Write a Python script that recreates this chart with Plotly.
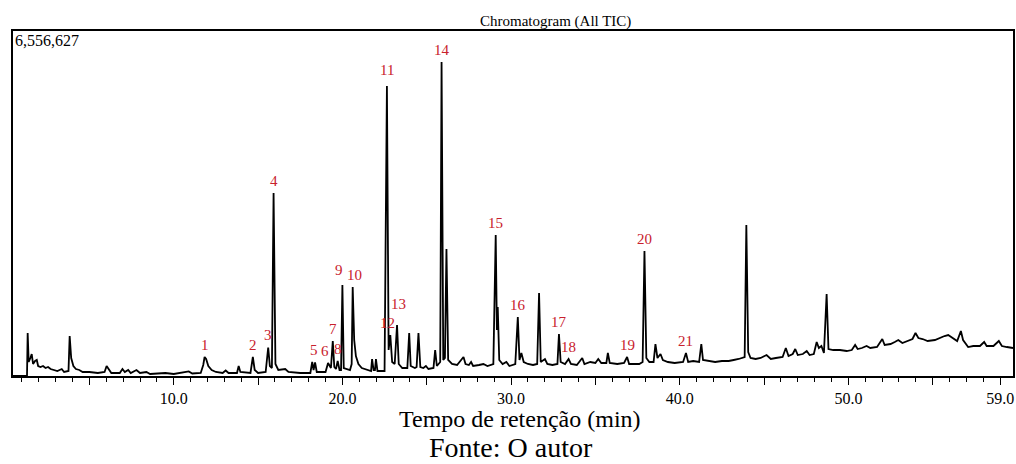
import plotly.graph_objects as go

# ---- data: retention time (min) and TIC intensity (counts)
rt = [0.47, 1.30, 1.34, 1.40, 1.50, 1.58, 1.66, 1.78, 1.88, 1.96, 2.10, 2.25, 2.40, 2.55, 2.70, 2.90, 3.10, 3.36, 3.50, 3.76,
      3.83, 3.92, 4.05, 4.20, 4.40, 4.60, 5.00, 5.50, 5.90, 6.02, 6.15, 6.30, 6.80, 6.96, 7.10, 7.30, 7.45, 7.79, 8.00, 8.38,
      8.60, 9.50, 10.00, 10.89, 11.10, 11.60, 11.75, 11.83, 11.92, 12.05, 12.25, 12.50, 12.90, 13.08, 13.25, 13.75, 13.85, 13.95, 14.55, 14.69,
      14.80, 15.00, 15.45, 15.60, 15.70, 15.82, 15.92, 16.03, 16.20, 16.61, 16.80, 17.50, 18.10, 18.21, 18.29, 18.38, 18.48, 19.00, 19.15, 19.32,
      19.43, 19.52, 19.62, 19.72, 19.83, 19.92, 20.00, 20.08, 20.45, 20.55, 20.61, 20.70, 20.80, 20.95, 21.15, 21.50, 21.70, 21.76, 21.85, 21.93,
      21.99, 22.08, 22.50, 22.64, 22.74, 22.84, 22.95, 23.10, 23.24, 23.34, 23.55, 23.85, 23.96, 24.05, 24.30, 24.40, 24.51, 24.62, 24.80, 24.95,
      25.10, 25.40, 25.50, 25.60, 25.80, 25.88, 25.98, 26.08, 26.17, 26.27, 26.50, 26.80, 27.18, 27.30, 27.50, 27.63, 27.75, 28.10, 28.36, 28.60,
      28.95, 29.09, 29.16, 29.21, 29.30, 29.50, 29.72, 29.90, 30.25, 30.40, 30.50, 30.61, 30.75, 31.00, 31.30, 31.55, 31.66, 31.76, 32.01, 32.15,
      32.45, 32.75, 32.84, 32.94, 33.20, 33.41, 33.55, 33.90, 34.22, 34.35, 34.70, 35.00, 35.17, 35.35, 35.65, 35.74, 35.85, 36.30, 36.70, 36.88,
      37.00, 37.60, 37.80, 37.91, 38.02, 38.20, 38.45, 38.56, 38.68, 38.86, 39.00, 39.30, 39.70, 40.20, 40.37, 40.50, 40.80, 41.15, 41.28, 41.38,
      41.70, 42.10, 42.50, 42.90, 43.20, 43.50, 43.85, 43.95, 44.06, 44.20, 44.50, 44.80, 45.15, 45.40, 45.70, 46.10, 46.29, 46.45, 46.70, 46.85,
      47.00, 47.30, 47.53, 47.70, 47.95, 48.12, 48.25, 48.40, 48.55, 48.71, 48.82, 49.10, 49.50, 49.90, 50.20, 50.40, 50.55, 50.80, 51.08, 51.30,
      51.70, 52.01, 52.15, 52.50, 52.75, 52.96, 53.20, 53.50, 53.80, 53.98, 54.15, 54.40, 54.70, 55.13, 55.40, 55.70, 55.92, 56.20, 56.45, 56.67,
      56.80, 57.10, 57.40, 57.80, 58.05, 58.20, 58.60, 58.92, 59.10, 59.40, 59.76]

tic = [0, 0, 817000, 266000, 342000, 418000, 228000, 285000, 304000, 190000, 171000, 190000, 152000, 171000, 133000, 114000, 95000, 133000, 76000, 95000,
       760000, 342000, 190000, 133000, 114000, 76000, 76000, 57000, 76000, 190000, 133000, 57000, 57000, 133000, 76000, 114000, 57000, 114000, 57000, 76000,
       38000, 57000, 38000, 86000, 48000, 57000, 209000, 361000, 323000, 190000, 114000, 76000, 57000, 105000, 57000, 57000, 190000, 76000, 57000, 361000,
       114000, 57000, 76000, 542000, 190000, 152000, 3478000, 228000, 114000, 133000, 76000, 57000, 57000, 266000, 114000, 257000, 76000, 76000, 247000, 152000,
       665000, 171000, 133000, 285000, 114000, 114000, 1729000, 152000, 114000, 228000, 1691000, 684000, 380000, 228000, 152000, 114000, 95000, 323000, 114000, 114000,
       323000, 95000, 95000, 5511000, 494000, 779000, 266000, 228000, 969000, 228000, 152000, 152000, 817000, 190000, 152000, 171000, 817000, 171000, 152000, 190000,
       133000, 152000, 494000, 190000, 266000, 5968000, 304000, 342000, 2414000, 304000, 228000, 209000, 361000, 228000, 209000, 266000, 190000, 209000, 228000, 190000,
       228000, 2680000, 874000, 1311000, 304000, 228000, 266000, 190000, 228000, 1121000, 304000, 437000, 266000, 228000, 209000, 228000, 1577000, 266000, 323000, 228000,
       209000, 228000, 798000, 266000, 228000, 323000, 228000, 209000, 342000, 228000, 266000, 247000, 323000, 247000, 247000, 437000, 247000, 228000, 247000, 361000,
       228000, 228000, 266000, 2376000, 342000, 266000, 266000, 608000, 342000, 418000, 304000, 266000, 247000, 266000, 437000, 266000, 285000, 266000, 608000, 304000,
       285000, 266000, 285000, 285000, 304000, 323000, 361000, 2870000, 456000, 342000, 323000, 342000, 399000, 323000, 342000, 361000, 532000, 380000, 418000, 513000,
       399000, 418000, 475000, 399000, 418000, 646000, 532000, 570000, 437000, 1558000, 513000, 494000, 494000, 475000, 494000, 589000, 513000, 532000, 570000, 532000,
       551000, 703000, 589000, 608000, 646000, 684000, 627000, 665000, 703000, 817000, 722000, 703000, 665000, 684000, 722000, 760000, 779000, 722000, 665000, 855000,
       684000, 551000, 570000, 570000, 646000, 570000, 570000, 665000, 570000, 551000, 532000]

# labelled peaks
peak_labels = ["1", "2", "3", "4", "5", "6", "7", "8", "9", "10", "11",
               "12", "13", "14", "15", "16", "17", "18", "19", "20", "21"]
peak_rt = [11.83, 14.69, 15.60, 15.92, 18.30, 19.15, 19.43, 19.72, 20.00, 20.61, 22.64,
           22.84, 23.24, 25.88, 29.09, 30.40, 32.84, 33.41, 36.88, 37.91, 40.37]
peak_tic = [361000, 361000, 542000, 3478000, 266000, 247000, 665000, 285000, 1729000, 1691000, 5511000,
            779000, 969000, 5968000, 2680000, 1121000, 798000, 323000, 361000, 2376000, 437000]

y_max = 6556627
x_range = [0.47, 59.76]
tick_vals = [5, 10, 15, 20, 25, 30, 35, 40, 45, 50, 55, 59]
tick_text = ["", "10.0", "", "20.0", "", "30.0", "", "40.0", "", "50.0", "", "59.0"]

# label nudges in pixels (style only)
label_dx = {"6": -3, "9": -3, "10": 2, "12": -3, "13": 1}
label_dy = {"13": 9, "9": 3, "11": 4}

SERIF = "Liberation Serif, Times New Roman, serif"
RED = "#c8202c"

fig = go.Figure()
fig.add_trace(go.Scatter(x=rt, y=tic, mode="lines",
                         line=dict(color="black", width=1.8), hoverinfo="skip", showlegend=False))

for lab, t, h in zip(peak_labels, peak_rt, peak_tic):
    fig.add_annotation(x=t, y=h, text=lab, showarrow=False, xanchor="center", yanchor="bottom",
                       xshift=label_dx.get(lab, 0), yshift=2 + label_dy.get(lab, 0),
                       font=dict(family=SERIF, size=15, color=RED))

fig.add_annotation(xref="paper", yref="paper", x=0.542, y=1.027, text="Chromatogram (All TIC)",
                   showarrow=False, xanchor="center", yanchor="middle",
                   font=dict(family=SERIF, size=15, color="black"))
fig.add_annotation(xref="paper", yref="paper", x=0.0, y=0.973, text=f"{y_max:,}",
                   showarrow=False, xanchor="left", yanchor="middle",
                   font=dict(family=SERIF, size=16, color="black"))
fig.add_annotation(xref="paper", yref="paper", x=0.507, y=-0.126, text="Tempo de retenção (min)",
                   showarrow=False, xanchor="center", yanchor="middle",
                   font=dict(family=SERIF, size=24, color="black"))
fig.add_annotation(xref="paper", yref="paper", x=0.498, y=-0.208, text="Fonte: O autor",
                   showarrow=False, xanchor="center", yanchor="middle",
                   font=dict(family=SERIF, size=28, color="black"))

fig.update_xaxes(range=x_range, showgrid=False, zeroline=False, showline=True, mirror=True,
                 linecolor="black", linewidth=1.8,
                 tickmode="array", tickvals=tick_vals, ticktext=tick_text,
                 ticks="outside", ticklen=7, tickwidth=1.2, tickcolor="black",
                 tickfont=dict(family=SERIF, size=16, color="black"),
                 minor=dict(tickmode="linear", tick0=0, dtick=1, ticks="outside", ticklen=4,
                            tickwidth=1, tickcolor="black", showgrid=False))
fig.update_yaxes(range=[0, y_max], showgrid=False, zeroline=False, showline=True, mirror=True,
                 linecolor="black", linewidth=1.6, showticklabels=False, ticks="")

fig.update_layout(width=1016, height=464, margin=dict(l=13, r=1, t=31, b=88),
                  plot_bgcolor="white", paper_bgcolor="white")

fig.write_html("out.html")
